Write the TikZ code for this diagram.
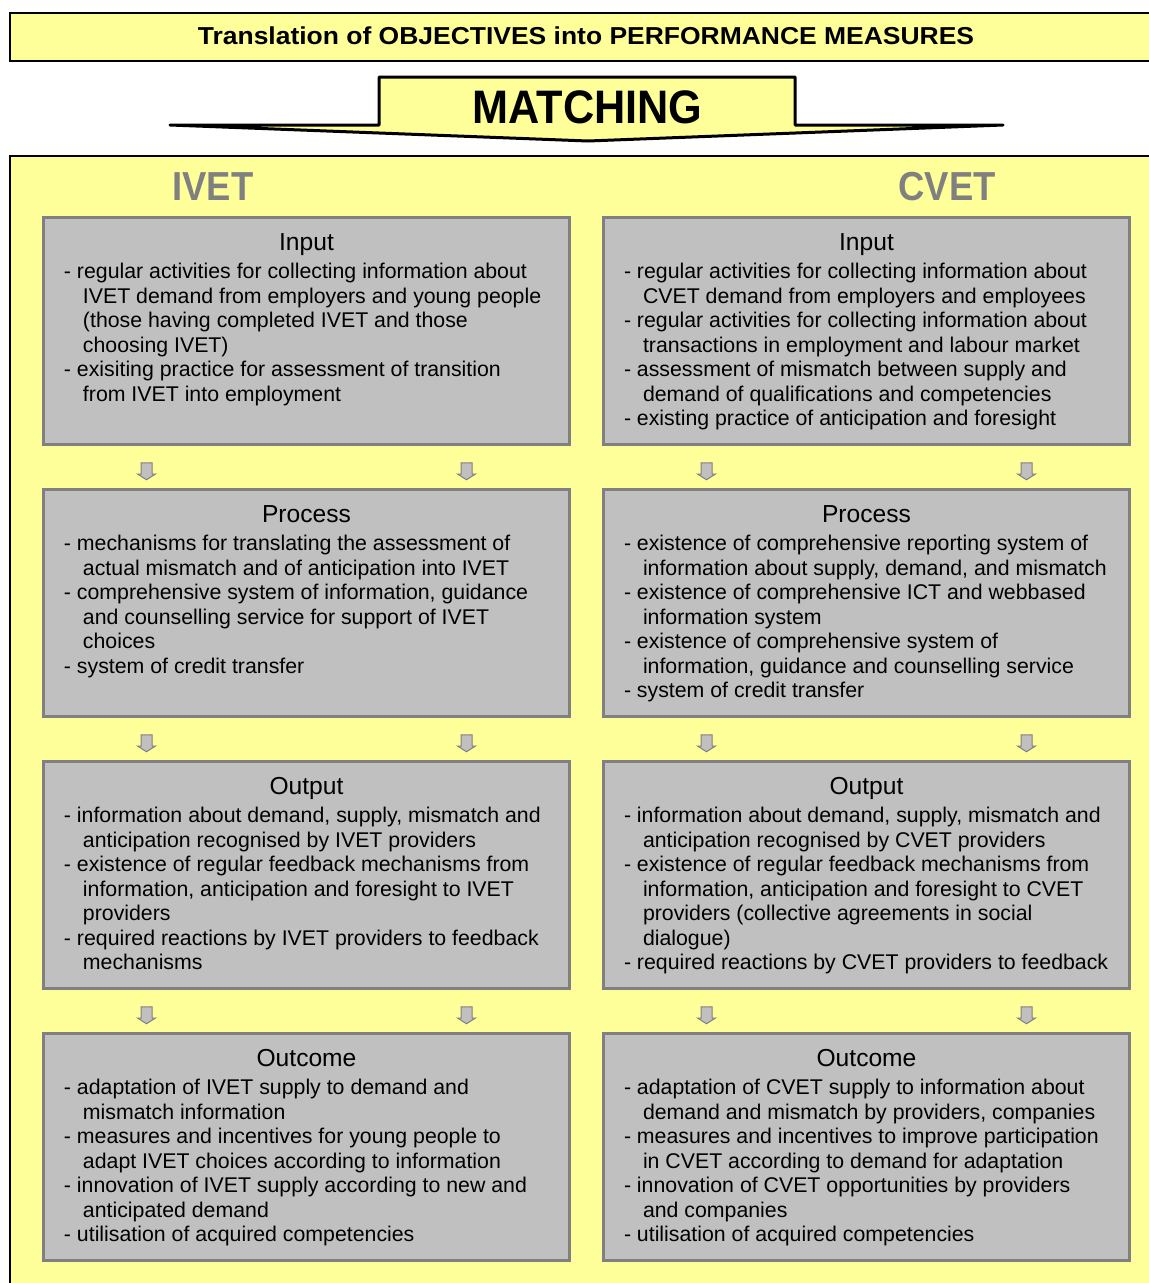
\documentclass[tikz,border=0pt]{standalone}
\usepackage{fontspec}
\setmainfont{Liberation Sans}
\newfontfamily\headfont{Liberation Sans}[FakeStretch=0.9]
\newfontfamily\matchfont{Liberation Sans}[FakeStretch=0.92]
\newfontfamily\bannerfont{Liberation Sans}[FakeStretch=1.08]
\usetikzlibrary{positioning,calc,shapes.arrows}
\definecolor{panelyellow}{HTML}{FFFF99}
\definecolor{boxfill}{HTML}{C0C0C0}
\definecolor{boxline}{HTML}{808080}
% one stage box: title, then items with hanging indent
\newcommand\stagetext[2]{\begin{minipage}[t][227pt][t]{526pt}\centering
 \fontsize{24.6}{27}\selectfont\rule{0pt}{33.2pt}#1\par\vspace{3.3pt}
 \leftskip=20.5pt\rightskip=0pt plus 1fil\parfillskip=0pt plus 1fil\let\\\break
 \fontsize{21.3}{24.5}\selectfont #2\end{minipage}}
\newcommand\itm{\par\hangindent=19pt\hangafter=1 -\ }

\begin{document}
\begin{tikzpicture}[x=1pt,y=-1pt,
 panel/.style={draw=black,line width=1.2pt,fill=panelyellow},
 stage/.style={draw=boxline,line width=3pt,fill=boxfill,inner sep=0pt,outer sep=0pt,anchor=north west},
 flow/.style={single arrow,draw=boxline,line width=1pt,fill=boxfill,rotate=-90,inner xsep=0pt,inner ysep=5pt,
  minimum height=17pt,minimum width=17pt,single arrow head extend=3.5pt,single arrow tip angle=115},
 column/.style={font=\headfont\bfseries\fontsize{40.5}{44}\selectfont,text=boxline}]
\useasboundingbox (0,0) rectangle (1149,1283);
\node[panel,minimum width=1152pt,minimum height=48pt,inner sep=0pt,
 font=\bannerfont\bfseries\fontsize{24.5}{28}\selectfont] (banner) at (586,37)
 {\raisebox{3.5pt}{Translation of OBJECTIVES into PERFORMANCE MEASURES}};
\draw[panel,line width=3pt,line join=round] (170,125) -- (379,125) -- (379,77) -- (795,77)
 -- (795,125) -- (1003,125) -- (588,141) -- cycle;
\node[font=\matchfont\bfseries\fontsize{47}{50}\selectfont] (matching) at (587.5,107) {MATCHING};
\draw[panel] (10,156) rectangle (1170,1300);
\node[column] (ivet) at (213,186.5) {IVET};
\node[column] (cvet) at (947,186.5) {CVET};
% IVET column
\node[stage] (input-l) at (43.5,217.5) {\stagetext{Input}{%
 \itm regular activities for collecting information about\\ IVET demand from employers and young people\\ (those having completed IVET and those\\ choosing IVET)
 \itm exisiting practice for assessment of transition\\ from IVET into employment}};
\node[stage,below=45pt of input-l.south west,anchor=north west] (process-l) {\stagetext{Process}{%
 \itm mechanisms for translating the assessment of\\ actual mismatch and of anticipation into IVET
 \itm comprehensive system of information, guidance\\ and counselling service for support of IVET\\ choices
 \itm system of credit transfer}};
\node[stage,below=45pt of process-l.south west,anchor=north west] (output-l) {\stagetext{Output}{%
 \itm information about demand, supply, mismatch and\\ anticipation recognised by IVET providers
 \itm existence of regular feedback mechanisms from\\ information, anticipation and foresight to IVET\\ providers
 \itm required reactions by IVET providers to feedback\\ mechanisms}};
\node[stage,below=45pt of output-l.south west,anchor=north west] (outcome-l) {\stagetext{Outcome}{%
 \itm adaptation of IVET supply to demand and\\ mismatch information
 \itm measures and incentives for young people to\\ adapt IVET choices according to information
 \itm innovation of IVET supply according to new and\\ anticipated demand
 \itm utilisation of acquired competencies}};
% CVET column
\node[stage] (input-r) at (603.5,217.5) {\stagetext{Input}{%
 \itm regular activities for collecting information about\\ CVET demand from employers and employees
 \itm regular activities for collecting information about\\ transactions in employment and labour market
 \itm assessment of mismatch between supply and\\ demand of qualifications and competencies
 \itm existing practice of anticipation and foresight}};
\node[stage,below=45pt of input-r.south west,anchor=north west] (process-r) {\stagetext{Process}{%
 \itm existence of comprehensive reporting system of\\ information about supply, demand, and mismatch
 \itm existence of comprehensive ICT and webbased\\ information system
 \itm existence of comprehensive system of\\ information, guidance and counselling service
 \itm system of credit transfer}};
\node[stage,below=45pt of process-r.south west,anchor=north west] (output-r) {\stagetext{Output}{%
 \itm information about demand, supply, mismatch and\\ anticipation recognised by CVET providers
 \itm existence of regular feedback mechanisms from\\ information, anticipation and foresight to CVET\\ providers (collective agreements in social\\ dialogue)
 \itm required reactions by CVET providers to feedback}};
\node[stage,below=45pt of output-r.south west,anchor=north west] (outcome-r) {\stagetext{Outcome}{%
 \itm adaptation of CVET supply to information about\\ demand and mismatch by providers, companies
 \itm measures and incentives to improve participation\\ in CVET according to demand for adaptation
 \itm innovation of CVET opportunities by providers\\ and companies
 \itm utilisation of acquired competencies}};
% small arrows between the stages
\foreach \c in {l,r}
 \foreach \a/\b in {input/process,process/output,output/outcome}
  \foreach \dx [count=\k] in {-160,160}
   \node[flow] (\a-\b-\c-\k) at ($(\a-\c.south)!0.5!(\b-\c.north)+(\dx pt,-2.5pt)$) {};
\end{tikzpicture}
\end{document}
